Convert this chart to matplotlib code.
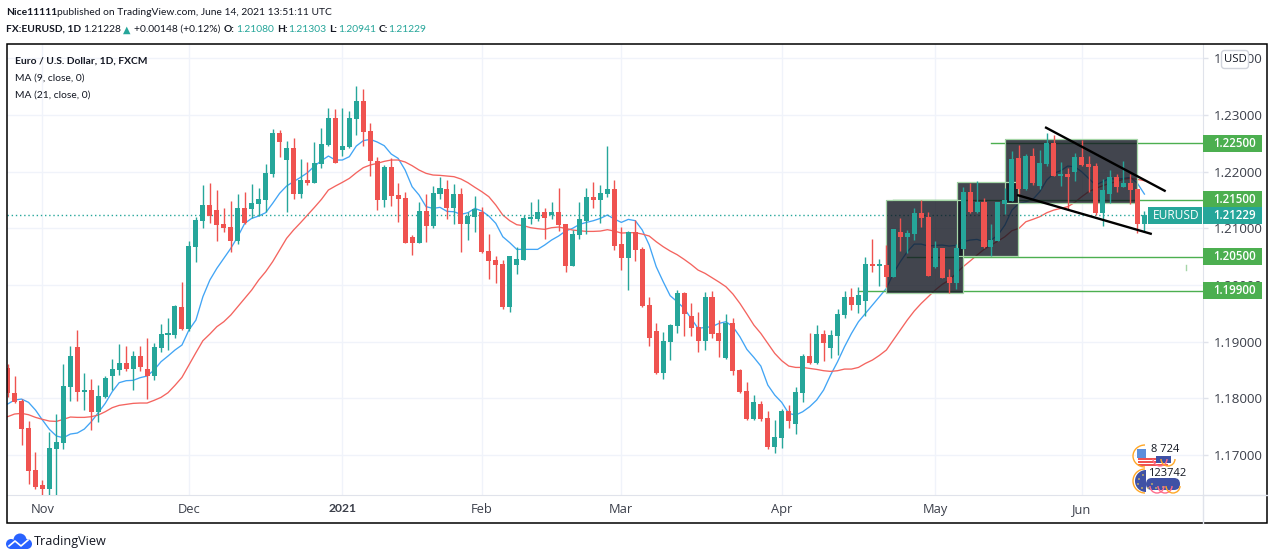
import matplotlib
import numpy as np
matplotlib.use('Agg')
import matplotlib.pyplot as plt
from matplotlib.patches import Rectangle, Circle, FancyBboxPatch, Arc, Wedge
from matplotlib.lines import Line2D
from matplotlib.transforms import Affine2D

opens = [1.18534,1.18087,1.17952,1.17476,1.16735,1.16470,1.16406,1.17111,1.17217,1.18205,
    1.18905,1.18117,1.18146,1.17758,1.18017,1.18393,1.18499,1.18622,1.18517,1.18746,
    1.18517,1.18393,1.18887,1.19116,1.19116,1.19610,1.19222,1.20674,1.21133,1.21409,
    1.21321,1.21074,1.21021,1.20774,1.21356,1.21338,1.21427,1.21497,1.21956,1.22679,
    1.22203,1.22414,1.21603,1.21850,1.21797,1.22132,1.22467,1.22944,1.22379,1.22432,
    1.22926,1.23244,1.22714,1.22185,1.21497,1.22079,1.21585,1.21532,1.20844,1.20739,
    1.21303,1.21039,1.21603,1.21691,1.21356,1.21603,1.21074,1.21197,1.21286,1.20598,
    1.20439,1.20368,1.19610,1.20351,1.20439,1.21162,1.21162,1.21286,1.21227,1.21286,
    1.21074,1.20333,1.20880,1.21127,1.21550,1.21497,1.21603,1.21691,1.20721,1.20474,
    1.20933,1.20633,1.19645,1.19186,1.18445,1.18992,1.19275,1.19857,1.19451,1.19257,
    1.19010,1.19786,1.19151,1.18710,1.19327,1.18498,1.18128,1.17634,1.17899,1.17652,
    1.17140,1.17299,1.17775,1.17546,1.18093,1.18745,1.18622,1.19133,1.18886,1.19098,
    1.19469,1.19786,1.19645,1.19716,1.20368,1.20333,1.20350,1.20138,1.20932,1.20844,
    1.20897,1.21267,1.21197,1.20315,1.20650,1.20138,1.20032,1.20632,1.21638,1.21285,
    1.21461,1.20668,1.20773,1.21426,1.21479,1.22237,1.21691,1.22273,1.21744,1.22132,
    1.22502,1.21920,1.21955,1.21991,1.22255,1.22132,1.22096,1.21267,1.21602,1.21902,
    1.21726,1.21796,1.21691,1.21080]
highs = [1.18605,1.18393,1.17982,1.17599,1.17053,1.16559,1.17405,1.17723,1.18605,1.18922,
    1.19205,1.18446,1.18334,1.18234,1.18393,1.18687,1.18958,1.18922,1.18834,1.18922,
    1.19063,1.18975,1.19310,1.19416,1.19645,1.20057,1.20774,1.21203,1.21762,1.21797,
    1.21674,1.21356,1.21480,1.21603,1.21638,1.21779,1.21709,1.22132,1.22750,1.22732,
    1.22538,1.22591,1.22220,1.22168,1.22520,1.22767,1.23120,1.23102,1.23120,1.23067,
    1.23508,1.23455,1.22855,1.22256,1.22115,1.22238,1.21797,1.21638,1.20880,1.21462,
    1.21603,1.21744,1.21903,1.21850,1.21779,1.21709,1.21286,1.21568,1.21374,1.20897,
    1.20509,1.20439,1.20509,1.20668,1.21233,1.21462,1.21515,1.21356,1.21462,1.21709,
    1.21074,1.20968,1.21462,1.21709,1.21815,1.21762,1.22450,1.21850,1.21021,1.20950,
    1.21144,1.20668,1.19786,1.19327,1.19169,1.19310,1.19910,1.19874,1.19680,1.19522,
    1.19874,1.19892,1.19380,1.19486,1.19416,1.18516,1.18287,1.18057,1.17952,1.17775,
    1.17616,1.17810,1.17881,1.18199,1.18781,1.19151,1.19292,1.19204,1.19204,1.19574,
    1.19892,1.19945,1.19963,1.20492,1.20809,1.20456,1.20703,1.20985,1.21179,1.20967,
    1.21355,1.21497,1.21285,1.20767,1.20650,1.20279,1.20720,1.21726,1.21796,1.21832,
    1.21532,1.21073,1.21461,1.21708,1.22361,1.22467,1.22308,1.22414,1.22379,1.22678,
    1.22643,1.22167,1.22061,1.22326,1.22555,1.22273,1.22149,1.21867,1.22026,1.21955,
    1.22185,1.21955,1.21691,1.21303]
lows = [1.18029,1.17911,1.17176,1.16488,1.16400,1.16200,1.16200,1.16200,1.17105,1.17958,
    1.17958,1.17793,1.17441,1.17588,1.17999,1.18146,1.18411,1.18481,1.18146,1.18481,
    1.17987,1.18323,1.18817,1.18852,1.19063,1.19210,1.19180,1.20409,1.21009,1.21086,
    1.20774,1.20939,1.20586,1.20721,1.21074,1.21174,1.21215,1.21286,1.21903,1.22256,
    1.21286,1.21515,1.21532,1.21762,1.21797,1.22062,1.22450,1.22150,1.22273,1.22414,
    1.22644,1.22450,1.21921,1.21321,1.21374,1.21391,1.21109,1.20739,1.20527,1.20739,
    1.20756,1.21003,1.21515,1.21162,1.21074,1.20580,1.20792,1.20933,1.20562,1.20104,
    1.20039,1.19574,1.19522,1.20192,1.20439,1.21074,1.21127,1.20809,1.21162,1.20950,
    1.20227,1.20333,1.20809,1.20897,1.21356,1.21092,1.21550,1.20615,1.20262,1.19910,
    1.20421,1.19610,1.18922,1.18428,1.18340,1.18675,1.19151,1.19098,1.19098,1.18816,
    1.18851,1.19063,1.18728,1.18692,1.18410,1.18093,1.17616,1.17616,1.17599,1.17105,
    1.17034,1.17122,1.17475,1.17369,1.17934,1.18604,1.18604,1.18657,1.18710,1.18763,
    1.19416,1.19557,1.19504,1.19451,1.20227,1.19980,1.19968,1.20138,1.20597,1.20562,
    1.20791,1.21020,1.20156,1.20291,1.20121,1.19856,1.19921,1.20632,1.21267,1.21261,
    1.20650,1.20509,1.20773,1.21250,1.21479,1.21602,1.21673,1.21761,1.21691,1.22096,
    1.21920,1.21744,1.21320,1.21832,1.22096,1.21638,1.21232,1.21038,1.21438,1.21638,
    1.21726,1.21426,1.20914,1.20941]
closes = [1.18087,1.17940,1.17464,1.16723,1.16441,1.16400,1.17123,1.17229,1.18217,1.18746,
    1.18117,1.18146,1.17758,1.18040,1.18358,1.18517,1.18622,1.18517,1.18746,1.18552,
    1.18393,1.18905,1.19134,1.19134,1.19627,1.19222,1.20686,1.21144,1.21409,1.21221,
    1.21056,1.21003,1.20774,1.21356,1.21091,1.21444,1.21515,1.21973,1.22679,1.22520,
    1.22414,1.21603,1.21850,1.21797,1.22150,1.22485,1.22944,1.22150,1.22450,1.22944,
    1.23244,1.22697,1.22185,1.21497,1.22079,1.21568,1.21515,1.20739,1.20739,1.21303,
    1.21039,1.21621,1.21709,1.21356,1.21603,1.21074,1.21215,1.21338,1.20580,1.20421,
    1.20351,1.19610,1.20509,1.20456,1.21180,1.21180,1.21286,1.21180,1.21286,1.21056,
    1.20333,1.20897,1.21162,1.21550,1.21497,1.21621,1.21691,1.20686,1.20474,1.20933,
    1.20615,1.19627,1.19063,1.18445,1.19010,1.19292,1.19857,1.19486,1.19239,1.19010,
    1.19786,1.19133,1.19010,1.19327,1.18481,1.18110,1.17634,1.17934,1.17634,1.17140,
    1.17317,1.17775,1.17599,1.18110,1.18745,1.18622,1.19133,1.18975,1.19116,1.19486,
    1.19786,1.19645,1.19821,1.20368,1.20333,1.20351,1.20138,1.20985,1.20844,1.20914,
    1.21267,1.21179,1.20156,1.20650,1.20121,1.20032,1.20650,1.21638,1.21285,1.21461,
    1.20668,1.20791,1.21461,1.21497,1.22220,1.21691,1.22273,1.21796,1.22149,1.22502,
    1.21920,1.21955,1.21902,1.22255,1.22114,1.22079,1.21267,1.21673,1.21902,1.21726,
    1.21796,1.21673,1.21073,1.21229]
ma9 = [1.17899,1.17970,1.17987,1.17929,1.17793,1.17617,1.17452,1.17335,1.17305,1.17370,
    1.17388,1.17458,1.17588,1.17746,1.17911,1.18117,1.18276,1.18311,1.18317,1.18364,
    1.18393,1.18499,1.18646,1.18746,1.18852,1.18940,1.19205,1.19380,1.19792,1.20086,
    1.20292,1.20468,1.20645,1.20850,1.21086,1.21174,1.21215,1.21274,1.21438,1.21615,
    1.21744,1.21821,1.21897,1.21979,1.22097,1.22191,1.22273,1.22203,1.22203,1.22262,
    1.22450,1.22544,1.22567,1.22520,1.22456,1.22309,1.22232,1.22026,1.21732,1.21585,
    1.21380,1.21350,1.21368,1.21297,1.21291,1.21244,1.21274,1.21350,1.21303,1.21215,
    1.21086,1.20850,1.20745,1.20627,1.20627,1.20627,1.20627,1.20703,1.20792,1.20862,
    1.20950,1.20997,1.21068,1.21103,1.21133,1.21174,1.21233,1.21162,1.21103,1.21156,
    1.21133,1.20968,1.20703,1.20321,1.20057,1.19810,1.19704,1.19586,1.19410,1.19233,
    1.19251,1.19263,1.19322,1.19351,1.19263,1.19086,1.18863,1.18722,1.18569,1.18234,
    1.18057,1.17928,1.17734,1.17705,1.17763,1.17852,1.17969,1.18146,1.18410,1.18645,
    1.18910,1.19145,1.19351,1.19498,1.19645,1.19792,1.19938,1.20203,1.20409,1.20585,
    1.20720,1.20720,1.20685,1.20697,1.20703,1.20685,1.20697,1.20762,1.20791,1.20803,
    1.20762,1.20791,1.20879,1.21056,1.21320,1.21438,1.21467,1.21508,1.21644,1.21849,
    1.21967,1.22014,1.22096,1.22085,1.21997,1.21879,1.21761,1.21820,1.21879,1.21861,
    1.21879,1.21897,1.21791,1.21602]
ma21 = [1.17676,1.17723,1.17735,1.17711,1.17664,1.17629,1.17599,1.17593,1.17629,1.17670,
    1.17664,1.17664,1.17676,1.17705,1.17764,1.17835,1.17876,1.17893,1.17911,1.17917,
    1.17917,1.17964,1.18017,1.18099,1.18229,1.18370,1.18587,1.18805,1.19016,1.19134,
    1.19263,1.19351,1.19469,1.19616,1.19763,1.19910,1.20086,1.20233,1.20409,1.20615,
    1.20821,1.20968,1.21097,1.21233,1.21368,1.21509,1.21674,1.21744,1.21809,1.21879,
    1.21979,1.22068,1.22115,1.22144,1.22179,1.22203,1.22203,1.22168,1.22103,1.22026,
    1.21968,1.21938,1.21932,1.21921,1.21909,1.21868,1.21803,1.21721,1.21644,1.21556,
    1.21409,1.21233,1.21133,1.21062,1.21044,1.21009,1.20992,1.20980,1.21009,1.21021,
    1.20997,1.20968,1.20956,1.20944,1.20944,1.20950,1.20974,1.20950,1.20915,1.20921,
    1.20921,1.20897,1.20862,1.20762,1.20674,1.20598,1.20533,1.20451,1.20362,1.20262,
    1.20204,1.20127,1.20051,1.19968,1.19839,1.19674,1.19486,1.19292,1.19145,1.18969,
    1.18792,1.18663,1.18569,1.18545,1.18545,1.18528,1.18510,1.18487,1.18475,1.18487,
    1.18516,1.18516,1.18545,1.18616,1.18675,1.18757,1.18852,1.19028,1.19205,1.19381,
    1.19540,1.19674,1.19791,1.19909,1.20009,1.20085,1.20203,1.20321,1.20421,1.20526,
    1.20626,1.20703,1.20773,1.20850,1.20956,1.20997,1.21114,1.21156,1.21203,1.21273,
    1.21320,1.21350,1.21379,1.21455,1.21555,1.21644,1.21702,1.21749,1.21791,1.21820,
    1.21867,1.21879,1.21861,1.21838]
monthTicks = [5, 26, 48, 68, 88, 111, 133, 154]
monthLabels = ["Nov", "Dec", "2021", "Feb", "Mar", "Apr", "May", "Jun"]
priceTicks = [1.17, 1.18, 1.19, 1.20, 1.21, 1.22, 1.23, 1.24]
levels = [1.225, 1.215, 1.205, 1.199]
levelStarts = [141, 127, 129, 122]
boxes = [(126, 137, 1.1985, 1.215), (136.1, 144.9, 1.2051, 1.2182), (143, 162, 1.2144, 1.2257)]
channels = [((148.9, 165.9), (1.22773, 1.21661)), ((144.9, 163.9), (1.2158, 1.20903))]
lastPrice = 1.21229

WIDTH = 1274
HEIGHT = 560
PIXELS = Affine2D().scale(1, -1).translate(0, HEIGHT)
NARROW = 'Lato'
HEADSIZE = 7.4
plt.rcParams['font.family'] = 'Open Sans'


class Plotter:
    GREEN = "#26a69a"
    RED = "#ef5350"
    LEVEL = "#4caf50"
    TEXT = "#131722"
    GRID = "#f0f3fa"
    EDGE = "#e0e3eb"

    @staticmethod
    def drawCandles(ax):
        x = np.arange(len(closes))
        up = np.array(closes) >= np.array(opens)
        colors = np.where(up, Plotter.GREEN, Plotter.RED)
        ax.vlines(x, lows, highs, colors=colors, linewidth=1.0, zorder=6)
        bottom = np.minimum(opens, closes)
        height = np.maximum(np.abs(np.array(closes)-np.array(opens)), 0.0003)
        ax.bar(x, height, bottom=bottom, width=0.72, color=colors, linewidth=0, zorder=6)

    @staticmethod
    def drawAverages(ax):
        x = np.arange(len(closes))
        ax.plot(x, ma9, color="#42a5f5", linewidth=0.95, zorder=3)
        ax.plot(x, ma21, color="#f4645f", linewidth=0.95, zorder=3)
        ax.axhline(lastPrice, color=Plotter.GREEN, linewidth=1, linestyle=(0, (1, 2)), zorder=3)

    @staticmethod
    def drawLevels(ax):
        [ax.plot([start, 172], [level, level], color=Plotter.LEVEL, linewidth=1.0, zorder=3)
            for start, level in zip(levelStarts, levels)]
        ax.plot([169, 169], [1.2027, 1.2035], color="#a5d6a7", linewidth=1, zorder=3)
        [Plotter.priceLabel(ax, level, "%.5f" % level, Plotter.LEVEL) for level in levels]
        Plotter.priceLabel(ax, lastPrice, "%.5f" % lastPrice, Plotter.GREEN)
        # symbol tag in front of the price
        ax.add_patch(Rectangle((0.9543, lastPrice-0.0015), 0.0452, 0.003, transform=ax.get_yaxis_transform(),
            facecolor=Plotter.GREEN, linewidth=0, zorder=8))
        ax.text(0.9772, lastPrice, "EURUSD", transform=ax.get_yaxis_transform(), color="white",
            fontsize=8.6, ha="center", va="center", zorder=9)

    @staticmethod
    def priceLabel(ax, price, text, color):
        ax.add_patch(Rectangle((1.0, price-0.0015), 0.049, 0.003, transform=ax.get_yaxis_transform(),
            facecolor=color, linewidth=0, clip_on=False, zorder=8))
        ax.text(1.026, price, text, transform=ax.get_yaxis_transform(), color="white",
            fontsize=8.3, fontweight="semibold", ha="center", va="center", zorder=9)

    @staticmethod
    def drawBoxes(ax):
        [ax.add_patch(Rectangle((left, low), right-left, high-low, facecolor="#131722", alpha=0.8,
            edgecolor="none", zorder=4)) for left, right, low, high in boxes]
        [ax.add_patch(Rectangle((left, low), right-left, high-low, facecolor="none",
            edgecolor="#a5d6a7", linewidth=0.9, zorder=5)) for left, right, low, high in boxes]
        [ax.plot(x, y, color="black", linewidth=1.7, zorder=7) for x, y in channels]

    @staticmethod
    def drawFrame(fig):
        fig.add_artist(Rectangle((7, 44), 1260, 479, transform=PIXELS, facecolor="none", edgecolor="black", linewidth=1.1))
        fig.add_artist(FancyBboxPatch((1223, 52), 24, 15, boxstyle="round,pad=1.5,rounding_size=3", transform=PIXELS,
            facecolor="white", edgecolor="#d1d4dc", linewidth=1, zorder=5))
        fig.text(1235/WIDTH, 1-59.5/HEIGHT, "USD", color=Plotter.TEXT, fontsize=8.2, ha="center", va="center", zorder=6)

    @staticmethod
    def drawHeader(fig):
        line1 = [(6, "Nice11111", "bold", Plotter.TEXT), (57, "published on TradingView.com, June 14, 2021 13:51:11 UTC", "normal", Plotter.TEXT)]
        line2 = [(6, "FX:EURUSD, 1D", "bold", Plotter.TEXT), (83, "1.21228", "normal", Plotter.TEXT),
            (134, "+0.00148 (+0.12%)", "normal", Plotter.TEXT), (224, "O:", "bold", Plotter.TEXT),
            (236, "1.21080", "normal", Plotter.GREEN), (277, "H:", "bold", Plotter.TEXT),
            (288, "1.21303", "normal", Plotter.GREEN), (329, "L:", "bold", Plotter.TEXT),
            (338, "1.20941", "normal", Plotter.GREEN), (379, "C:", "bold", Plotter.TEXT),
            (388, "1.21229", "normal", Plotter.GREEN)]
        [fig.text(x/WIDTH, 1-12.5/HEIGHT, s, fontweight=w, color=c, fontsize=HEADSIZE, va="center", family=NARROW) for x, s, w, c in line1]
        [fig.text(x/WIDTH, 1-29.5/HEIGHT, s, fontweight=w, color=c, fontsize=HEADSIZE, va="center", family=NARROW) for x, s, w, c in line2]
        fig.text(127/WIDTH, 1-29.5/HEIGHT, "\u25b2", color=Plotter.GREEN, fontsize=7, ha="center", va="center", family="DejaVu Sans")
        fig.text(15/WIDTH, 1-61/HEIGHT, "Euro / U.S. Dollar, 1D, FXCM", fontweight="bold", color=Plotter.TEXT, fontsize=HEADSIZE, va="center", family=NARROW)
        fig.text(15/WIDTH, 1-78/HEIGHT, "MA (9, close, 0)", color=Plotter.TEXT, fontsize=HEADSIZE, va="center", family=NARROW)
        fig.text(15/WIDTH, 1-95/HEIGHT, "MA (21, close, 0)", color=Plotter.TEXT, fontsize=HEADSIZE, va="center", family=NARROW)

    @staticmethod
    def drawFlags(fig):
        # us flag
        fig.add_artist(FancyBboxPatch((1136, 448), 34, 17, boxstyle="round,pad=0,rounding_size=8", transform=PIXELS,
            facecolor="white", linewidth=0))
        [fig.add_artist(Rectangle((1138, y), 30, 1.6, transform=PIXELS, facecolor="#ef5350", linewidth=0)) for y in [458, 461, 464]]
        fig.add_artist(Rectangle((1137, 449), 9, 9, transform=PIXELS, facecolor="#5c8fdc", linewidth=0))
        fig.add_artist(Rectangle((1156, 456), 15, 7, transform=PIXELS, facecolor="#3f51a5", linewidth=0))
        # eu flag
        fig.add_artist(Wedge((1146, 481), 11, 90, 270, transform=PIXELS, facecolor="#3f51a5", linewidth=0))
        fig.add_artist(FancyBboxPatch((1146, 478), 34, 12, boxstyle="round,pad=0,rounding_size=6", transform=PIXELS,
            facecolor="#3f51a5", linewidth=0))
        [fig.add_artist(Circle((x, y), 0.8, transform=PIXELS, facecolor="#ffd54f", linewidth=0))
            for x, y in [(1143, 475), (1139, 479), (1138, 484), (1142, 488), (1148, 488), (1152, 484), (1156, 488), (1163, 487)]]
        [fig.add_artist(Arc((x, y), w, h, angle=0, theta1=a, theta2=b, transform=PIXELS, edgecolor=c, linewidth=1))
            for x, y, w, h, a, b, c in [(1145, 456, 24, 22, 90, 270, "#ffa726"), (1145, 481, 24, 24, 90, 270, "#ffa726"),
                (1160, 459, 14, 14, 0, 180, "#ff6d8a"), (1168, 459, 14, 14, 0, 180, "#ffa726"),
                (1157, 486, 14, 14, 0, 180, "#ff6d8a"), (1165, 486, 14, 14, 0, 180, "#ff6d8a"),
                (1173, 486, 14, 14, 0, 180, "#ffa726")]]
        fig.text(1165/WIDTH, 1-449/HEIGHT, "8 724", color=Plotter.TEXT, fontsize=8, ha="center", va="center", zorder=5)
        fig.text(1167/WIDTH, 1-473/HEIGHT, "123742", color=Plotter.TEXT, fontsize=8, ha="center", va="center", zorder=5)

    @staticmethod
    def drawLogo(fig):
        [fig.add_artist(Circle((x, y), r, transform=PIXELS, facecolor="#2962ff", linewidth=0))
            for x, y, r in [(11, 544, 5), (20, 540, 6.5), (27, 544, 5)]]
        fig.add_artist(Rectangle((11, 543), 16, 6, transform=PIXELS, facecolor="#2962ff", linewidth=0))
        fig.add_artist(Line2D([9, 15, 21, 28], [546, 541, 546, 540], transform=PIXELS, color="white", linewidth=1.2))
        fig.text(34/WIDTH, 1-541.5/HEIGHT, "TradingView", color=Plotter.TEXT, fontsize=9.1, va="center")

    @staticmethod
    def plot():
        fig = plt.figure(figsize=(WIDTH/100, HEIGHT/100), dpi=100)
        ax = fig.add_axes([7/WIDTH, 1-495/HEIGHT, 1196/WIDTH, 451/HEIGHT])
        ax.set_xlim(-0.086, 171.4)
        ax.set_ylim(1.16295, 1.24249)
        ax.grid(True, color=Plotter.GRID, linewidth=1)
        ax.set_axisbelow(True)
        ax.yaxis.tick_right()
        ax.set_yticks(priceTicks, ["%.5f" % p for p in priceTicks])
        ax.set_xticks(monthTicks, monthLabels)
        ax.tick_params(axis="y", length=3.6, width=1, color=Plotter.EDGE, labelcolor="#3b3f4a", labelsize=9.6, pad=4)
        ax.tick_params(axis="x", length=0, labelcolor="#3b3f4a", labelsize=9.3, pad=6)
        ax.get_xticklabels()[2].set_fontweight("bold")
        ax.get_xticklabels()[2].set_family(NARROW)
        ax.get_xticklabels()[2].set_fontsize(8.7)
        [ax.spines[s].set_visible(False) for s in ["top", "left"]]
        [ax.spines[s].set_color(Plotter.EDGE) for s in ["right", "bottom"]]

        Plotter.drawAverages(ax)
        Plotter.drawBoxes(ax)
        Plotter.drawCandles(ax)
        Plotter.drawLevels(ax)
        fig.add_artist(Line2D([1203, 1203], [495, 523], transform=PIXELS, color=Plotter.EDGE, linewidth=1))
        fig.add_artist(Line2D([1203, 1267], [495, 495], transform=PIXELS, color=Plotter.EDGE, linewidth=1))
        Plotter.drawFrame(fig)
        Plotter.drawHeader(fig)
        Plotter.drawFlags(fig)
        Plotter.drawLogo(fig)
        return fig, ax


fig, ax = Plotter.plot()
fig.savefig("out.png", dpi=100)
